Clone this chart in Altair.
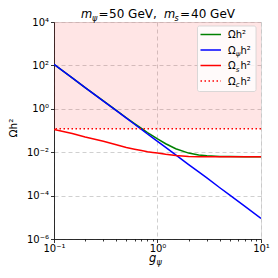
import altair as alt
import pandas as pd

# ---- data ----
g_values = [0.1, 0.15, 0.2, 0.3, 0.4, 0.5, 0.6, 0.7, 0.8, 0.9, 1.0, 1.2, 1.5, 2, 2.5, 3, 4, 5, 7, 10]
omega_total = [112, 26.7, 9.55, 2.31, 0.84, 0.387, 0.208, 0.124, 0.080, 0.056, 0.041, 0.0246,
               0.0145, 0.0091, 0.0074, 0.0068, 0.0064, 0.0063, 0.0062, 0.0062]
omega_psi = [112, 26.6, 9.5, 2.28, 0.82, 0.37, 0.194, 0.112, 0.069, 0.046, 0.0316, 0.0166,
             0.0075, 0.0027, 0.00123, 0.00065, 0.00023, 0.000105, 3.2e-5, 8.9e-6]
omega_s = [0.112, 0.072, 0.05, 0.032, 0.022, 0.0166, 0.0138, 0.012, 0.0106, 0.0098, 0.0092,
           0.0080, 0.0070, 0.0064, 0.0062, 0.0061, 0.0061, 0.0061, 0.0061, 0.0061]
omega_c = 0.12
y_top = 1e4

x_ticks = [m * 10.0 ** e for e in (-1, 0) for m in range(1, 10)] + [10.0]
y_ticks = [10.0 ** e for e in (-6, -4, -2, 0, 2, 4)]

W, H = 207, 217
FONT = "DejaVu Sans"

SUP = str.maketrans("-0123456789", "⁻⁰¹²³⁴⁵⁶⁷⁸⁹")
E = "round(log(datum.value)/LN10)"


def label_expr(exps):
    return " : ".join(f"{E} == {e} ? '10{str(e).translate(SUP)}'" for e in exps) + " : ''"


decade_test = f"abs(log(datum.value)/LN10 - {E}) < 0.001"

x_scale = alt.Scale(type="log", domain=[0.1, 10], nice=False)
y_scale = alt.Scale(type="log", domain=[1e-6, 1e4], nice=False)

common_axis = dict(
    title=None, grid=True, gridDash=[4, 3], gridColor="#c4c4c4", gridWidth=0.8,
    tickColor="black", tickWidth=0.8, domainColor="black", domainWidth=0.8,
    labelFont=FONT, labelFontSize=10, labelColor="black", labelOverlap=False,
    labelFlush=False, labelBound=False,
)
x_axis = alt.Axis(
    values=x_ticks,
    labelExpr=f"({decade_test}) ? ({label_expr([-1, 0, 1])}) : ''",
    gridOpacity={"condition": {"test": decade_test, "value": 1}, "value": 0},
    tickSize={"condition": {"test": decade_test, "value": 3.5}, "value": 2},
    labelPadding=0.5, **common_axis,
)
y_axis = alt.Axis(
    values=y_ticks, labelExpr=label_expr([-6, -4, -2, 0, 2, 4]),
    tickSize=3.5, labelPadding=2, **common_axis,
)

df = pd.DataFrame({"g": g_values, "total": omega_total, "psi": omega_psi, "s": omega_s})

shade = alt.Chart(pd.DataFrame({"lo": [omega_c], "hi": [y_top]})).mark_rect(
    color="red", opacity=0.1
).encode(
    x=alt.value(0), x2=alt.value(W),
    y=alt.Y("lo:Q", scale=y_scale, axis=y_axis), y2="hi:Q",
)


def line(col, color):
    return alt.Chart(df).mark_line(color=color, strokeWidth=1.5, clip=True).encode(
        x=alt.X("g:Q", scale=x_scale, axis=x_axis),
        y=alt.Y(f"{col}:Q", scale=y_scale, axis=y_axis),
    )


dotted = alt.Chart(pd.DataFrame({"c": [omega_c]})).mark_rule(
    color="red", strokeWidth=1.5, strokeDash=[1.5, 2.5]
).encode(y=alt.Y("c:Q", scale=y_scale, axis=y_axis))

one = pd.DataFrame({"a": [0]})


def txt(text, x, y, size=10, style="normal", angle=0, align="left", baseline="alphabetic"):
    return alt.Chart(one).mark_text(
        text=text, font=FONT, fontSize=size, fontStyle=style, angle=angle,
        align=align, baseline=baseline, color="black",
    ).encode(x=alt.value(x), y=alt.value(y))


# legend
legend_box = alt.Chart(one).mark_rect(
    fill="white", fillOpacity=0.8, stroke="#d0d0d0", strokeWidth=0.8, cornerRadius=2
).encode(x=alt.value(143.5), x2=alt.value(202), y=alt.value(4), y2=alt.value(69.5))

legend_items = [
    ("green", None, "", 12.5),
    ("blue", None, "ψ", 28),
    ("red", None, "s", 43.5),
    ("red", [1.5, 2.5], "c", 59),
]
legend_layers = [legend_box]
for color, dash, sub, yy in legend_items:
    kw = dict(color=color, strokeWidth=1.5)
    if dash:
        kw["strokeDash"] = dash
    legend_layers.append(
        alt.Chart(one).mark_rule(**kw).encode(
            x=alt.value(146.5), x2=alt.value(167), y=alt.value(yy)
        )
    )
    legend_layers.append(txt("Ω", 174, yy + 3.5))
    xh = 181.7
    if sub:
        legend_layers.append(txt(sub, 181.7, yy + 6, size=7, style="italic"))
        xh = 186.5
    legend_layers.append(txt("h²", xh, yy + 3.5))

# title
title_layers = [
    txt("m", 27, -4, size=11.5, style="italic"),
    txt("ψ", 38, -1.5, size=8, style="italic"),
    txt("=", 44.5, -4, size=12),
    txt("50 GeV,", 55, -4, size=12),
    txt("m", 110, -4, size=11.5, style="italic"),
    txt("s", 120.5, -1.5, size=8, style="italic"),
    txt("=", 126, -4, size=12),
    txt("40 GeV", 137, -4, size=12),
]

# axis titles
axis_title_layers = [
    txt("g", 95, 240, size=11.5, style="italic"),
    txt("ψ", 102.5, 242.5, size=8, style="italic"),
    txt("Ωh²", -40, 106, size=10.5, angle=270, align="center", baseline="middle"),
]

chart = alt.layer(
    shade, line("total", "green"), line("psi", "blue"), line("s", "red"), dotted,
    *legend_layers, *title_layers, *axis_title_layers,
).properties(
    width=W, height=H,
    padding={"left": 46, "top": 14, "right": 9, "bottom": 31},
    autosize=alt.AutoSizeParams(type="none"),
).configure_view(stroke="black", strokeWidth=0.8).configure(font=FONT)

chart.save("out.html", embed_options={"renderer": "svg", "actions": False})
